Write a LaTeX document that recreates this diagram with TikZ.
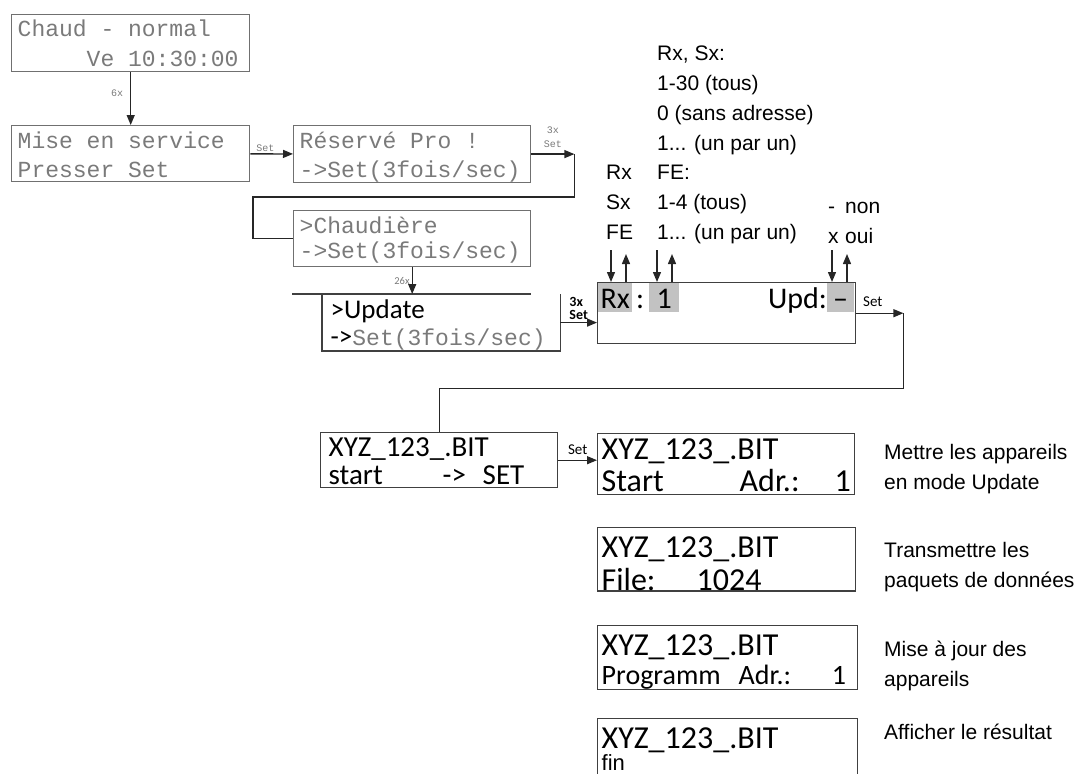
\documentclass[tikz,border=0pt]{standalone}
\usepackage{fontspec}
\setmainfont{Liberation Sans}
\newfontfamily\lcdmono{Liberation Mono}
\newfontfamily\lcdsans{Carlito}
\usetikzlibrary{calc,arrows.meta}

\definecolor{cadregris}{HTML}{707070}
\definecolor{cadrenoir}{HTML}{404040}
\definecolor{textegris}{HTML}{7A7A7A}
\definecolor{surligne}{HTML}{C2C2C2}
\definecolor{trait}{HTML}{262626}

% hauteur de la premiere ligne, profondeur de la derniere
\newcommand\haut[1]{\rule{0pt}{#1pt}}
\newcommand\bas[1]{\rule[-#1pt]{0pt}{#1pt}}
% police machine
\newcommand\machine[1]{\lcdmono\fontsize{23}{#1}\selectfont}

\tikzset{
  ecran/.style={draw=cadrenoir, line width=1.4pt, anchor=north west,
    inner xsep=6pt, inner ysep=0pt, align=flush left},
  ecrangris/.style={ecran, draw=cadregris, text=textegris, font={\machine{#1}}},
  ecranlcd/.style n args={2}{ecran, inner xsep=4pt,
    font=\lcdsans\fontsize{#1}{#2}\selectfont},
  cle/.style={fill=surligne, anchor=north west, inner sep=0pt,
    text height=25pt, text depth=4pt, font=\lcdsans\fontsize{30}{30}\selectfont},
  liaison/.style={draw=trait, line width=1.3pt},
  fleche/.style={liaison, -{Triangle[length=10pt,width=8pt]}},
  petit/.style={font=\lcdmono\fontsize{10}{14}\selectfont, text=textegris,
    inner sep=2pt, align=center},
  etiq/.style={font=\lcdsans\fontsize{15}{13}\selectfont, inner sep=2pt, align=flush left},
  legende/.style={font=\fontsize{21}{29.8}\selectfont, anchor=base west,
    inner sep=0pt, align=flush left},
}

\begin{document}
\begin{tikzpicture}[x=1pt, y=-1pt]
    % Cadre de l'image
    \useasboundingbox (0,0) rectangle (1082,774);
    \clip (0,0) rectangle (1082,774);

    % Ecrans du menu (police machine)
    \node[ecrangris=30, text width=226pt] (chaud) at (11,14)
        {\haut{22}Chaud - normal\\\phantom{Chaud}Ve 10:30:00\bas{5}};
    \node[ecrangris=29, text width=226pt] (mise) at (11,125)
        {\haut{23}Mise en service\\Presser Set\bas{4}};
    \node[ecrangris=29, text width=225pt] (reserve) at (293,125)
        {\haut{23}Réservé Pro !\\->Set(3fois/sec)\bas{4}};
    \node[ecrangris=25, text width=225pt] (chaudiere) at (293,210)
        {\haut{23}>Chaudière\\->Set(3fois/sec)\bas{8}};

    % Ecran Update (cadre ouvert)
    \node[ecran, draw=none, inner xsep=8pt, text width=221pt,
          font=\lcdsans\fontsize{27}{27}\selectfont] (update) at (322,294)
        {\haut{24}>Update\\->{\machine{27}\color{textegris}Set(3fois/sec)}\bas{2}};
    \draw[liaison, draw=cadrenoir, line width=1.4pt]
        ([xshift=-30]update.north west) -- ([xshift=-29]update.north east)
        (update.north west) -- (update.south west) -- (update.south east) -- (update.north east);

    % Ecran de selection Rx / Upd
    \node[ecran, minimum width=258pt, minimum height=61pt] (rx) at (597,282) {};
    \node[cle, minimum width=34pt] (rxcle) at ([shift={(1,1)}]rx.north west) {Rx};
    \node[cle, fill=none, minimum width=15pt] (rxdp) at (rxcle.north east) {:};
    \node[cle, minimum width=30pt] (rxval) at ([shift={(52,1)}]rx.north west) {1};
    \node[cle, minimum width=27pt] (updval) at ([shift={(230,1)}]rx.north west) {–};
    \node[cle, fill=none, anchor=north east] (updcle) at (updval.north west) {Upd:};

    % Fleches de reglage
    \foreach \dx in {14,60,235}{
        \draw[fleche] ([shift={(\dx,-32)}]rx.north west) -- ([xshift=\dx]rx.north west);
        \draw[fleche] ([xshift=\dx+15]rx.north west) -- ([shift={(\dx+15,-28)}]rx.north west);
    }

    % Legende des valeurs (ancre sur la derniere ligne)
    \node[legende] (champs) at (606,239.5) {Rx\\Sx\\FE};
    \node[legende] (plages) at (657,239.5)
        {Rx, Sx:\\1-30 (tous)\\0 (sans adresse)\\1... (un par un)\\FE:\\1-4 (tous)\\1... (un par un)};
    \node[legende] (tirets) at (828,243) {-\\x};
    \node[legende] (nonoui) at (845,243) {non\\oui};

    % Ecrans de mise a jour
    \node[ecranlcd={29}{28}, inner xsep=8pt, text width=221pt] (xyzstart) at (320,432)
        {\haut{24}XYZ\_123\_.BIT\\\makebox[114pt][l]{start}\makebox[40pt][l]{->}SET\bas{3}};
    \node[ecranlcd={32}{32}, text width=249pt] (xyzadr) at (597,433)
        {\haut{26}XYZ\_123\_.BIT\\\makebox[138pt][l]{Start}\makebox[95pt][l]{Adr.:}1\bas{3}};
    \node[ecranlcd={32}{33}, text width=250pt] (xyzfile) at (597,527)
        {\haut{30}XYZ\_123\_.BIT\\\makebox[95pt][l]{File:}1024};
    \node[ecranlcd={32}{29}, text width=252pt] (xyzprog) at (597,625)
        {\haut{30}XYZ\_123\_.BIT\\{\fontsize{28}{29}\selectfont\makebox[137pt][l]{Programm}\makebox[93pt][l]{Adr.:}1}\bas{4}};
    \node[ecranlcd={32}{22}, text width=252pt] (xyzfin) at (597,718)
        {\haut{30}XYZ\_123\_.BIT\\{\rmfamily\fontsize{22}{22}\selectfont fin}\bas{20}};

    % Textes explicatifs (ancre sur la derniere ligne)
    \node[legende] (noteA) at (884,489) {Mettre les appareils\\en mode Update};
    \node[legende] (noteB) at (884,587) {Transmettre les\\paquets de données};
    \node[legende] (noteC) at (884,686) {Mise à jour des\\appareils};
    \node[legende] (noteD) at (884,739) {Afficher le résultat};

    % Liaisons
    \draw[fleche] (chaud) -- node[petit, left=5pt, pos=0.4] {6x} (mise);
    \draw[fleche] (mise) -- node[petit, above, pos=0.35] {Set} (reserve);
    \coordinate (coudeA) at ($(reserve.east)+(43,0)$);
    \draw[fleche] (reserve.east) -- node[petit, above=4pt, pos=0.5] {3x\\Set} (coudeA);
    \draw[liaison] (coudeA) -- ++(0,43) -| ([xshift=-40]chaudiere.west) -- (chaudiere.west);
    \draw[fleche] (chaudiere.south) -- node[petit, left, text=textegris,
        font=\lcdsans\fontsize{10.5}{12}\selectfont] {26x} (chaudiere.south |- update.north);
    \draw[fleche] (update.east) -- node[etiq, above, font=\lcdsans\bfseries\fontsize{14}{13}\selectfont]
        {3x\\Set} (update.east -| rx.west);
    \coordinate (coudeB) at ($(rx.east)+(47,0)$);
    \draw[fleche] (rx.east) -- node[etiq, above=4pt, pos=0.35] {Set} (coudeB);
    \draw[liaison] (coudeB) -- ++(0,75) -| (xyzstart.north);
    \draw[fleche] (xyzstart.east) -- node[etiq, above=3pt] {Set} (xyzstart.east -| xyzadr.west);
\end{tikzpicture}
\end{document}
